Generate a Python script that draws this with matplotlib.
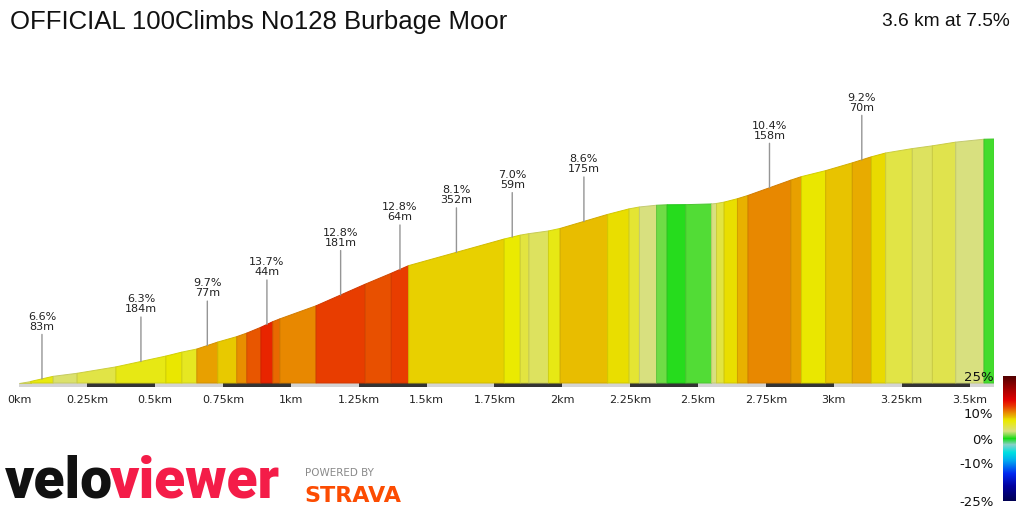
import numpy as np
import matplotlib
matplotlib.use("Agg")
import matplotlib.pyplot as plt
from matplotlib.colors import LinearSegmentedColormap, Normalize, to_rgb
from matplotlib.patches import Polygon, Rectangle
from matplotlib.cm import ScalarMappable

title = "OFFICIAL 100Climbs No128 Burbage Moor"
summary = "3.6 km at 7.5%"

# segment lengths (m) and gradients (%)
seg_len_m = [42, 83, 88, 143, 184, 59, 55, 77, 70, 37, 52, 44, 26, 133, 181,
             96, 64, 352, 59, 32, 72, 43, 175, 79, 38, 63, 39, 69, 95, 18,
             28, 49, 39, 158, 39, 89, 98, 70, 53, 98, 74, 86, 104, 38]
seg_grade = [4.0, 6.6, 3.7, 4.8, 6.3, 7.2, 6.0, 9.7, 8.3, 10.3, 12.0, 13.7, 11.5, 10.5, 12.8,
             12.2, 12.8, 8.1, 7.0, 5.0, 4.0, 6.3, 8.6, 7.5, 5.3, 3.0, 1.2, 0.2, 0.8, 3.0,
             5.0, 7.5, 9.0, 10.4, 9.6, 7.2, 8.5, 9.2, 7.8, 4.8, 4.0, 4.6, 3.0, 0.6]
labelled = [1, 4, 7, 11, 14, 16, 17, 18, 22, 33, 37]
start_elev = 175.0

km_ticks = [0, 0.25, 0.5, 0.75, 1, 1.25, 1.5, 1.75, 2, 2.25, 2.5, 2.75, 3, 3.25, 3.5]
km_labels = ["0km", "0.25km", "0.5km", "0.75km", "1km", "1.25km", "1.5km", "1.75km",
             "2km", "2.25km", "2.5km", "2.75km", "3km", "3.25km", "3.5km"]
cb_ticks = [25, 10, 0, -10, -25]
cb_labels = ["25%", "10%", "0%", "-10%", "-25%"]

# gradient colour scale
grade_nodes = [-25, -19, -14, -9, -5.5, -2.5, 0, 1.5, 3, 5, 7, 8, 9, 10, 11, 12, 13, 14, 15.5, 19, 25]
node_colors = ["#000050", "#0000a0", "#0028f0", "#00a8f0", "#00e0e0", "#88d0c8", "#10dc10",
               "#80dc50", "#d8e080", "#e2e440", "#eaea00", "#e8d400", "#e8b400", "#e89800",
               "#e87800", "#e85800", "#e83800", "#e82000", "#e00000", "#b00000", "#500000"]
norm = Normalize(-25, 25)
cmap = LinearSegmentedColormap.from_list(
    "grade", [(norm(v), c) for v, c in zip(grade_nodes, node_colors)])

seg_len = np.array(seg_len_m) / 1000.0
grades = np.array(seg_grade)
dist = np.concatenate([[0], np.cumsum(seg_len)])
elev = start_elev + np.concatenate([[0], np.cumsum(np.array(seg_len_m) * grades / 100)])
total_km = dist[-1]

W, H = 1024, 512
fig = plt.figure(figsize=(W / 100, H / 100), dpi=100)

# main axes: bottom at px 387, top at px 80
ax_top, ax_bot = 80, 387
ax = fig.add_axes([19.3 / W, 1 - ax_bot / H, 975 / W, (ax_bot - ax_top) / H])
ax.set_xlim(0, total_km)
ax_h = ax_bot - ax_top
span = (elev.max() - elev.min()) * ax_h / (ax_bot - 4 - 139)
lo = elev.min() - 4 / ax_h * span
ax.set_ylim(lo, lo + span)
for s in ax.spines.values():
    s.set_visible(False)
ax.set_yticks([])
ax.set_xticks(km_ticks, km_labels)
ax.tick_params(axis="x", length=0, pad=6, labelsize=8, labelcolor="#222222")

# distance band under the profile
band_tr = ax.get_xaxis_transform()
k = 0
while k * 0.25 < total_km:
    x0, x1 = k * 0.25, min((k + 1) * 0.25, total_km)
    ax.add_patch(Rectangle((x0, 0), x1 - x0, 4 / ax_h, transform=band_tr,
                           color="#333333" if k % 2 else "#d4d4d4", lw=0, clip_on=False))
    k += 1

base = elev.min()
for i in range(len(seg_len)):
    fc = np.array(to_rgb(cmap(norm(grades[i]))))
    poly = Polygon([[dist[i], base], [dist[i + 1], base], [dist[i + 1], elev[i + 1]], [dist[i], elev[i]]],
                   closed=True, facecolor=fc, edgecolor=fc * 0.9, lw=0.7)
    ax.add_patch(poly)

for i in labelled:
    xm = (dist[i] + dist[i + 1]) / 2
    ym = (elev[i] + elev[i + 1]) / 2
    ax.annotate(f"{grades[i]:.1f}%\n{seg_len_m[i]}m", xy=(xm, ym), xytext=(0, 34),
                textcoords="offset points", ha="center", va="bottom", fontsize=8,
                color="#222222", linespacing=1.0,
                arrowprops=dict(arrowstyle="-", color="#959595", lw=1.0, shrinkA=0, shrinkB=0))

# colour bar
cax = fig.add_axes([1003 / W, 1 - 501 / H, 13 / W, 125 / H])
cb = fig.colorbar(ScalarMappable(norm=norm, cmap=cmap), cax=cax)
cb.outline.set_visible(False)
cb.set_ticks(cb_ticks)
cb.set_ticklabels(cb_labels)
cax.yaxis.set_ticks_position("left")
cax.tick_params(length=0, labelsize=9.5, pad=7, labelcolor="#111111")

# titles
fig.text(10 / W, 1 - 22 / H, title, fontsize=18.5, family=["Liberation Sans", "DejaVu Sans"],
         va="center", ha="left", color="#111111")
fig.text(1010 / W, 1 - 22 / H, summary, fontsize=13.8, family=["Liberation Sans", "DejaVu Sans"],
         va="center", ha="right", color="#111111")

# logos
fig.text(5 / W, 1 - 510 / H, "velo", fontsize=41, family=["Roboto", "DejaVu Sans"],
         weight="black", color="#111111", va="bottom")
fig.text(110 / W, 1 - 510 / H, "viewer", fontsize=41, family=["Roboto", "DejaVu Sans"],
         weight="black", color="#f41c48", va="bottom")
fig.text(305 / W, 1 - 473 / H, "POWERED BY", fontsize=7.5, color="#8a8a8a",
         va="center", ha="left")
fig.text(304 / W, 1 - 502 / H, "STRAVA", fontsize=16, weight="bold", color="#fc4c02",
         va="baseline", ha="left")

fig.savefig("out.png", dpi=100)
